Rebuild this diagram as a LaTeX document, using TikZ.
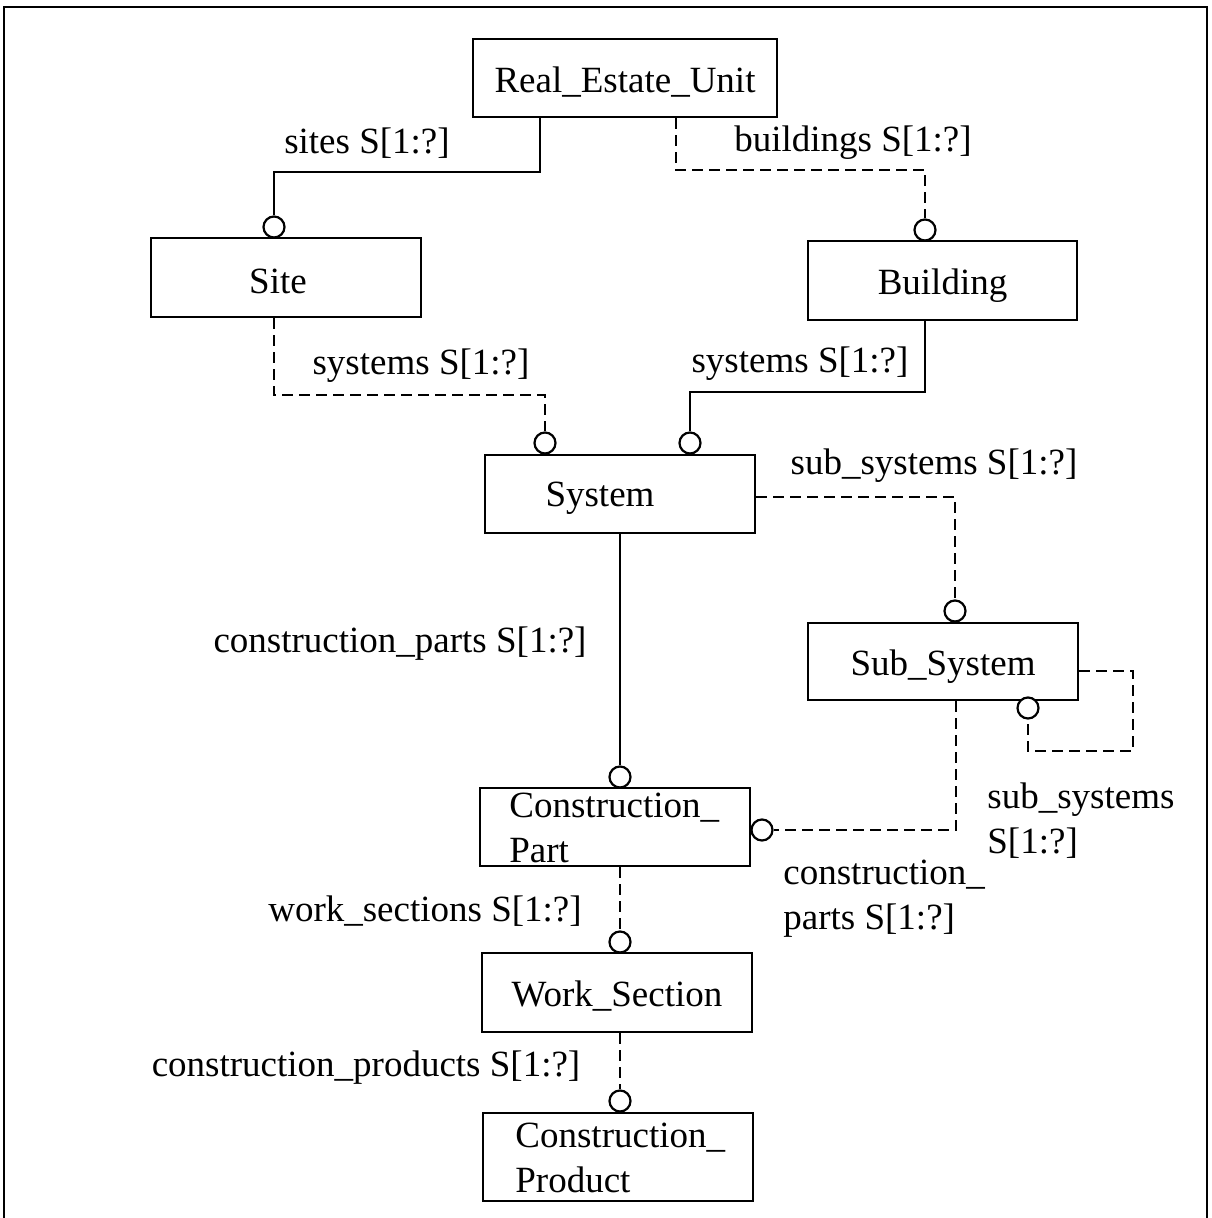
\documentclass[tikz,border=0pt]{standalone}
\usepackage{fontspec}
\setmainfont{Liberation Serif}
\begin{document}
\begin{tikzpicture}[x=0.5pt,y=-0.5pt,
  txt/.style={font=\fontsize{18.5pt}{22.5pt}\selectfont,inner sep=0pt},
  entity/.style={draw,line width=1.4pt,inner sep=0pt,minimum width=135pt,text height=16pt,text depth=1.7pt,font=\fontsize{18.5pt}{22.5pt}\selectfont},
  ring/.style={draw,circle,line width=1.1pt,inner sep=0pt,minimum size=10.5pt,fill=white},
  mandatory/.style={line width=1.25pt},
  optional/.style={line width=1.25pt,dash pattern=on 5.5pt off 3pt},
  lbl/.style={txt,align=left}
]
\useasboundingbox (0,0) rectangle (1211,1218);
% outer frame, open at the bottom
\draw[line width=1.3pt] (4,1218) -- (4,7) -- (1207,7) -- (1207,1218);

% entities
\node[entity,minimum width=152pt,minimum height=39pt] (reu) at (625,78) {Real\_Estate\_Unit};
\node[entity,minimum height=39.5pt] (site) at (286,277.5) {};
\node[txt] (siteT) at (278,281) {Site};
\node[entity,minimum width=134.5pt,minimum height=39.5pt] (bldg) at (942.5,280.5) {Building};
\node[entity,minimum height=39pt] (sys) at (620,494) {};
\node[txt] (sysT) at (600,498) {System};
\node[entity,minimum height=38.5pt] (sub) at (943,661.5) {Sub\_System};
\node[entity,minimum height=39pt] (cpart) at (615,827) {};
\node[lbl,anchor=west] (cpartT) at (509,828) {Construction\_\\Part};
\node[entity,minimum height=39.5pt] (ws) at (617,992.5) {Work\_Section};
\node[entity,minimum height=44pt] (cprod) at (618,1157) {};
\node[lbl,anchor=west] (cprodT) at (515,1158) {Construction\_\\Product};

% relationship end circles
\node[ring] (oSite) at (274,227) {};
\node[ring] (oBldg) at (925,230) {};
\node[ring] (oSys1) at (545,443) {};
\node[ring] (oSys2) at (690,443) {};
\node[ring] (oSub) at (955,611) {};
\node[ring] (oSelf) at (1028,708) {};
\node[ring] (oCP1) at (620,777) {};
\node[ring] (oCP2) at (762,830) {};
\node[ring] (oWS) at (620,942) {};
\node[ring] (oCPr) at (620,1101) {};

% relationships
\draw[mandatory] (reu.south -| 540,0) -- (540,172) -| (oSite.north);
\draw[optional] (reu.south -| 676,0) -- (676,170) -| (oBldg.north);
\draw[optional] (site.south -| 274,0) -- (274,395) -| (oSys1.north);
\draw[mandatory] (bldg.south -| 925,0) -- (925,392) -| (oSys2.north);
\draw[optional] (sys.east |- 0,497) -| (oSub.north);
\draw[optional] (sub.east |- 0,671) -| (1133,751) -| (oSelf.south);
\draw[optional] (sub.south -| 956,0) |- (oCP2.east);
\draw[mandatory] (sys.south -| oCP1) -- (oCP1.north);
\draw[optional] (cpart.south -| oWS) -- (oWS.north);
\draw[optional] (ws.south -| oCPr) -- (oCPr.north);

% role labels
\node[txt] (lSites) at (367,143) {sites S[1:?]};
\node[txt] (lBldgs) at (853,143) {buildings S[1:?]};
\node[txt] (lSys1) at (421,366) {systems S[1:?]};
\node[txt] (lSys2) at (800,364) {systems S[1:?]};
\node[txt] (lSub) at (934,466) {sub\_systems S[1:?]};
\node[txt] (lCParts) at (400,644) {construction\_parts S[1:?]};
\node[lbl,anchor=west] (lSelf) at (987,821) {sub\_systems\\S[1:?]};
\node[lbl,anchor=west] (lCP2) at (783,899) {construction\_\\parts S[1:?]};
\node[txt] (lWS) at (425,911) {work\_sections S[1:?]};
\node[txt] (lCPr) at (366,1068) {construction\_products S[1:?]};
\end{tikzpicture}
\end{document}
